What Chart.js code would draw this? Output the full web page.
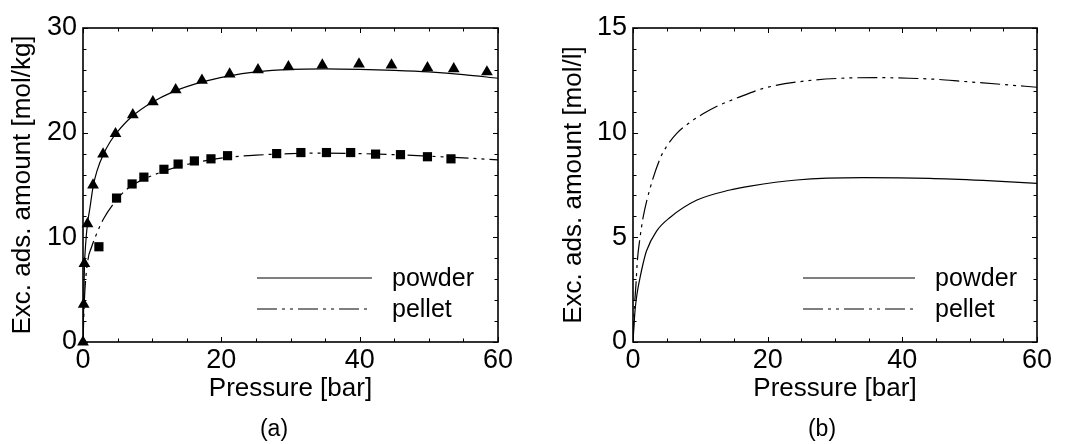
<!DOCTYPE html>
<html>
<head>
<meta charset="utf-8">
<script src="https://cdn.jsdelivr.net/npm/chart.js@4/dist/chart.umd.min.js"></script>
<style>
  html, body { margin: 0; padding: 0; background: #fff; }
  #wrap { position: relative; width: 1067px; height: 444px; overflow: hidden; }
  .panel { position: absolute; top: 0; }
</style>
</head>
<body>
<div id="wrap">
  <div class="panel" style="left:0px"><canvas id="cA" width="540" height="444"></canvas></div>
  <div class="panel" style="left:540px"><canvas id="cB" width="527" height="444"></canvas></div>
</div>
<script>
// ---------- data ----------
const seriesLabels = ['powder', 'pellet'];
const panelLabels = ['(a)', '(b)'];
const xAxisTitle = 'Pressure [bar]';
const yTitleA = 'Exc. ads. amount [mol/kg]';
const yTitleB = 'Exc. ads. amount [mol/l]';

// panel (a): measured points
const powderMarkP = [0, 0.1, 0.2, 0.65, 1.45, 2.9, 4.7, 7.2, 10.1, 13.4, 17.2, 21.2, 25.3, 29.7, 34.6, 39.9, 44.6, 49.8, 53.6, 58.4];
const powderMarkV = [0, 3.6, 7.5, 11.3, 15.0, 17.95, 19.9, 21.7, 22.95, 24.1, 25.0, 25.6, 26.0, 26.3, 26.45, 26.55, 26.45, 26.2, 26.1, 25.8];
const pelletMarkP = [2.3, 4.85, 7.1, 8.8, 11.7, 13.75, 16.1, 18.5, 20.9, 28.0, 31.5, 35.2, 38.7, 42.3, 45.9, 49.8, 53.2];
const pelletMarkV = [9.1, 13.75, 15.1, 15.75, 16.5, 17.0, 17.3, 17.5, 17.8, 18.0, 18.1, 18.1, 18.1, 17.95, 17.9, 17.7, 17.5];

// panel (a): model curves
const powderCurveP = [0, 0.1, 0.2, 0.4, 0.65, 1, 1.45, 2, 3, 4, 5, 7, 10, 13, 17, 21, 25, 30, 35, 40, 45, 50, 55, 60];
const powderCurveV = [0, 3.6, 7.0, 9.5, 11.3, 12.8, 14.8, 16.3, 18.0, 19.2, 20.1, 21.5, 22.9, 23.9, 24.8, 25.4, 25.8, 26.05, 26.1, 26.05, 25.95, 25.8, 25.55, 25.2];
const pelletCurveP = [0, 0.2, 0.7, 1.2, 2.2, 3, 4.3, 6, 8, 10, 12, 15, 18, 21, 25, 30, 35, 40, 45, 50, 55, 60];
const pelletCurveV = [0, 4.0, 7.8, 9.0, 10.7, 11.8, 13.1, 14.4, 15.3, 15.9, 16.4, 16.95, 17.35, 17.65, 17.85, 18.0, 18.05, 18.0, 17.9, 17.75, 17.6, 17.4];

// panel (b): volumetric curves
const powderVolP = [0, 0.3, 0.6, 1.0, 1.5, 2, 3.5, 5.5, 9.5, 14.4, 17.4, 24.3, 34.2, 44, 52, 60];
const powderVolV = [0, 1.5, 2.3, 3.0, 3.75, 4.35, 5.3, 5.95, 6.78, 7.26, 7.45, 7.74, 7.85, 7.82, 7.72, 7.58];
const pelletVolP = [0, 0.15, 0.45, 0.65, 1.05, 1.5, 2.5, 4, 5, 6.5, 8.5, 10.4, 12.4, 15.4, 19.4, 25.3, 31, 36, 41, 45, 49, 55, 60];
const pelletVolV = [0, 1.3, 2.8, 3.9, 5.0, 5.95, 7.3, 8.75, 9.35, 9.97, 10.5, 10.9, 11.25, 11.65, 12.12, 12.46, 12.6, 12.63, 12.6, 12.55, 12.45, 12.3, 12.17];

// ---------- helpers ----------
const FONT = "'Liberation Sans', Arial, sans-serif";
const DASH = [20, 5, 3, 5, 3, 5];
const pts = (xs, ys) => xs.map((x, i) => ({ x: x, y: ys[i] }));

const framePlugin = {
  id: 'frame',
  afterDraw(chart, args, o) {
    const { ctx, chartArea: a, scales } = chart;
    const x = scales.x, y = scales.y;
    ctx.save();
    ctx.strokeStyle = '#000';
    const seg = (x1, y1, x2, y2) => { ctx.beginPath(); ctx.moveTo(x1, y1); ctx.lineTo(x2, y2); ctx.stroke(); };
    ctx.lineWidth = 1;
    for (let i = 0; x.min + i * o.minorX <= x.max + 1e-9; i++) {
      const v = x.min + i * o.minorX;
      const px = Math.round(x.getPixelForValue(v)) + 0.5;
      const L = (Math.abs(v / o.majorX - Math.round(v / o.majorX)) < 1e-9) ? 5 : 3.5;
      seg(px, a.bottom, px, a.bottom - L);
      seg(px, a.top, px, a.top + L);
    }
    for (let i = 0; y.min + i * o.minorY <= y.max + 1e-9; i++) {
      const v = y.min + i * o.minorY;
      const py = Math.round(y.getPixelForValue(v)) + 0.5;
      const L = (Math.abs(v / o.majorY - Math.round(v / o.majorY)) < 1e-9) ? 5 : 3.5;
      seg(a.left, py, a.left + L, py);
      seg(a.right, py, a.right - L, py);
    }
    ctx.lineWidth = 1.6;
    ctx.strokeRect(a.left, a.top, a.right - a.left, a.bottom - a.top);

    // legend
    ctx.lineWidth = 1.2;
    ctx.fillStyle = '#000';
    ctx.font = '25px ' + FONT;
    ctx.textBaseline = 'middle';
    ctx.textAlign = 'left';
    const lg = o.legend;
    seriesLabels.forEach((lab, i) => {
      const yy = lg.ys[i];
      ctx.setLineDash(i === 0 ? [] : DASH);
      seg(lg.x0, yy, lg.x1, yy);
      ctx.setLineDash([]);
      ctx.fillText(lab, lg.tx, yy + 1);
    });

    // panel label
    ctx.font = '23px ' + FONT;
    ctx.textAlign = 'center';
    ctx.textBaseline = 'middle';
    ctx.fillText(o.label, o.labelX, 430);
    ctx.restore();
  }
};

function makeOptions(cfg) {
  return {
    responsive: false,
    animation: false,
    events: [],
    layout: { padding: { top: 28, right: cfg.padRight, left: 0, bottom: 0 } },
    plugins: {
      legend: { display: false },
      tooltip: { enabled: false },
      title: { display: false },
      frame: cfg.frame
    },
    scales: {
      x: {
        type: 'linear', min: 0, max: 60,
        grid: { display: false, drawTicks: false },
        border: { display: false },
        ticks: { stepSize: 20, color: '#000', padding: 2, font: { family: FONT, size: 27 }, maxRotation: 0 },
        title: { display: true, text: xAxisTitle, color: '#000', font: { family: FONT, size: 26 }, padding: { top: 0, bottom: 40 } },
        afterFit: (s) => { s.height = 102; }
      },
      y: {
        type: 'linear', min: 0, max: cfg.yMax,
        grid: { display: false, drawTicks: false },
        border: { display: false },
        ticks: { stepSize: cfg.yStep, color: '#000', padding: 6, font: { family: FONT, size: 27 } },
        title: { display: true, text: cfg.yTitle, color: '#000', font: { family: FONT, size: 26 }, padding: { top: cfg.yTitlePad, bottom: 0 } },
        afterFit: (s) => { s.width = cfg.yWidth; }
      }
    }
  };
}

const curveStyle = (dash) => ({
  showLine: true, pointRadius: 0, borderColor: '#000', borderWidth: 1.2,
  borderDash: dash, cubicInterpolationMode: 'monotone', fill: false
});

// panel (a)
new Chart(document.getElementById('cA'), {
  type: 'scatter',
  data: {
    datasets: [
      Object.assign({ label: seriesLabels[0], data: pts(powderCurveP, powderCurveV) }, curveStyle([])),
      Object.assign({ label: seriesLabels[1], data: pts(pelletCurveP, pelletCurveV) }, curveStyle(DASH)),
      { label: seriesLabels[0] + ' (exp.)', data: pts(powderMarkP, powderMarkV), showLine: false,
        pointStyle: 'triangle', pointRadius: 6.8, backgroundColor: '#000', borderColor: '#000', borderWidth: 0, clip: false },
      { label: seriesLabels[1] + ' (exp.)', data: pts(pelletMarkP, pelletMarkV), showLine: false,
        pointStyle: 'rect', pointRadius: 6.5, backgroundColor: '#000', borderColor: '#000', borderWidth: 0, clip: false }
    ]
  },
  options: makeOptions({
    padRight: 42, yMax: 30, yStep: 10, yTitle: yTitleA, yTitlePad: 7, yWidth: 83,
    frame: { minorX: 5, majorX: 20, minorY: 2, majorY: 10,
      legend: { x0: 257, x1: 372, tx: 392, ys: [278, 309] }, label: panelLabels[0], labelX: 274 }
  }),
  plugins: [framePlugin]
});

// panel (b)
new Chart(document.getElementById('cB'), {
  type: 'scatter',
  data: {
    datasets: [
      Object.assign({ label: seriesLabels[0], data: pts(powderVolP, powderVolV) }, curveStyle([])),
      Object.assign({ label: seriesLabels[1], data: pts(pelletVolP, pelletVolV) }, curveStyle(DASH))
    ]
  },
  options: makeOptions({
    padRight: 30, yMax: 15, yStep: 5, yTitle: yTitleB, yTitlePad: 18, yWidth: 93,
    frame: { minorX: 5, majorX: 20, minorY: 1, majorY: 5,
      legend: { x0: 263, x1: 375, tx: 395, ys: [278, 309] }, label: panelLabels[1], labelX: 282 }
  }),
  plugins: [framePlugin]
});
</script>
</body>
</html>
